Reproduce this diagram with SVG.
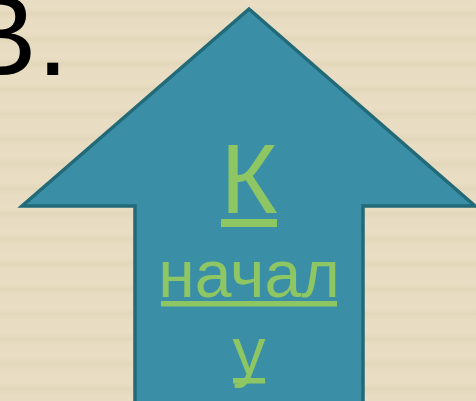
<svg xmlns="http://www.w3.org/2000/svg" width="476" height="401" viewBox="0 0 476 401">
<defs>
<linearGradient id="stripeGrad" x1="0" y1="0" x2="0" y2="1">
<stop offset="0" stop-color="#e8ddc2"/>
<stop offset="0.3" stop-color="#e9dec4"/>
<stop offset="0.55" stop-color="#e3d7bb"/>
<stop offset="0.8" stop-color="#e8ddc2"/>
<stop offset="1" stop-color="#e8ddc2"/>
</linearGradient>
<pattern id="stripes" x="0" y="0" width="476" height="25" patternUnits="userSpaceOnUse">
<rect width="476" height="25" fill="url(#stripeGrad)"/>
</pattern>
<style>
.arrow{fill:#3a8fa6;stroke:#226a78;stroke-width:3.5;stroke-linejoin:miter}
.lbl{fill:#8dc663;font-family:"Liberation Sans",Arial,sans-serif;text-anchor:middle}
.ul{fill:#8dc663}
</style>
</defs>
<rect width="476" height="401" fill="url(#stripes)"/>
<text x="-40" y="75" font-family="Liberation Sans, Arial, sans-serif" font-size="115" fill="#000">В.</text>
<g id="arrow-node">
<polygon class="arrow" points="249,9 475,206 363,206 363,404 135,404 135,206 22,206"/>
<text class="lbl" x="249" y="213" font-size="98">К</text>
<rect class="ul" x="221" y="219" width="56" height="8"/>
<text class="lbl" x="249" y="297" font-size="66">начал</text>
<rect class="ul" x="161" y="301" width="176" height="5.5"/>
<text class="lbl" x="249" y="374" font-size="66">у</text>
<rect class="ul" x="233" y="378" width="32" height="5.5"/>
</g>
<g id="connectors"/>
</svg>
